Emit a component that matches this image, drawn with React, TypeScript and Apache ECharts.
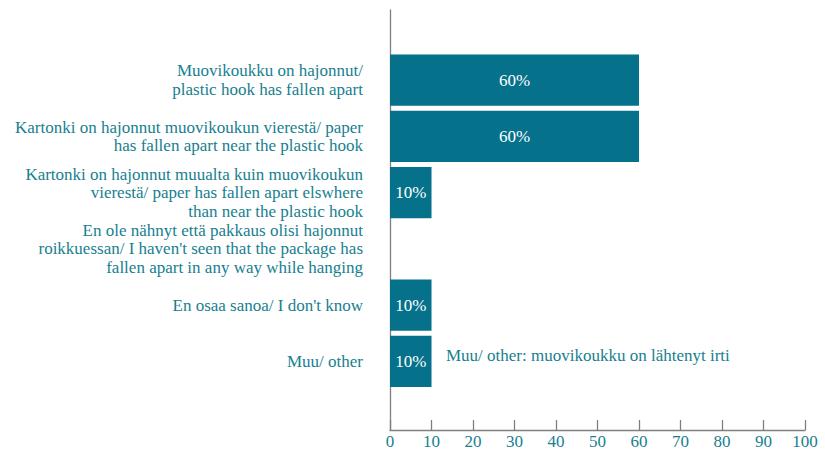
import React, { useEffect, useRef } from "react";
import * as echarts from "echarts";

const categories = [
  "Muovikoukku on hajonnut/\nplastic hook has fallen apart",
  "Kartonki on hajonnut muovikoukun vierestä/ paper\nhas fallen apart near the plastic hook",
  "Kartonki on hajonnut muualta kuin muovikoukun\nvierestä/ paper has fallen apart elswhere\nthan near the plastic hook",
  "En ole nähnyt että pakkaus olisi hajonnut\nroikkuessan/ I haven't seen that the package has\nfallen apart in any way while hanging",
  "En osaa sanoa/ I don't know",
  "Muu/ other",
];
const values = [60, 60, 10, 0, 10, 10];
const xTicks = [0, 10, 20, 30, 40, 50, 60, 70, 80, 90, 100];
const note = "Muu/ other: muovikoukku on lähtenyt irti";

const TEAL = "#05718a";
const TEXT = "#17808f";
const AXIS = "#7f7f7f";
const FONT = "Liberation Serif, serif";

export default function App() {
  const ref = useRef<HTMLDivElement>(null);
  useEffect(() => {
    document.body.style.margin = "0";
    if (!ref.current) return;
    const chart = echarts.init(ref.current, null, { renderer: "svg" });
    chart.setOption({
      animation: false,
      textStyle: { fontFamily: FONT },
      grid: [
        { left: 390, width: 415, top: 52, height: 337.5 },
        { left: 390, width: 415, top: 10, height: 420 },
      ],
      xAxis: [
        { type: "value", gridIndex: 0, min: 0, max: 100, show: false },
        {
          type: "value",
          gridIndex: 1,
          min: xTicks[0],
          max: xTicks[xTicks.length - 1],
          interval: 10,
          axisLine: { show: true, lineStyle: { color: AXIS, width: 1.3 } },
          axisTick: { show: true, inside: true, length: 10, lineStyle: { color: AXIS, width: 1.3 } },
          splitLine: { show: false },
          axisLabel: { color: TEXT, fontFamily: FONT, fontSize: 17, margin: 3 },
        },
      ],
      yAxis: [
        {
          type: "category",
          gridIndex: 0,
          data: categories,
          inverse: true,
          axisLine: { show: false },
          axisTick: { show: false },
          axisLabel: {
            color: TEXT,
            fontFamily: FONT,
            fontSize: 17,
            lineHeight: 18.5,
            align: "right",
            margin: 27,
          },
        },
        {
          type: "category",
          gridIndex: 1,
          data: [""],
          axisLine: { show: true, lineStyle: { color: AXIS, width: 1.3 } },
          axisTick: { show: false },
          axisLabel: { show: false },
        },
      ],
      series: [
        {
          type: "bar",
          xAxisIndex: 0,
          yAxisIndex: 0,
          data: values,
          barCategoryGap: "9%",
          itemStyle: { color: TEAL },
          label: {
            show: true,
            position: "inside",
            color: "#ffffff",
            fontFamily: FONT,
            fontSize: 17,
            formatter: (p: any) => (p.value ? p.value + "%" : ""),
          },
        },
      ],
      graphic: [
        {
          type: "text",
          left: 446,
          top: 347,
          style: { text: note, fill: TEXT, fontFamily: FONT, fontSize: 17 },
        },
      ],
    });
    return () => chart.dispose();
  }, []);
  return <div ref={ref} style={{ width: 825, height: 454 }} />;
}
